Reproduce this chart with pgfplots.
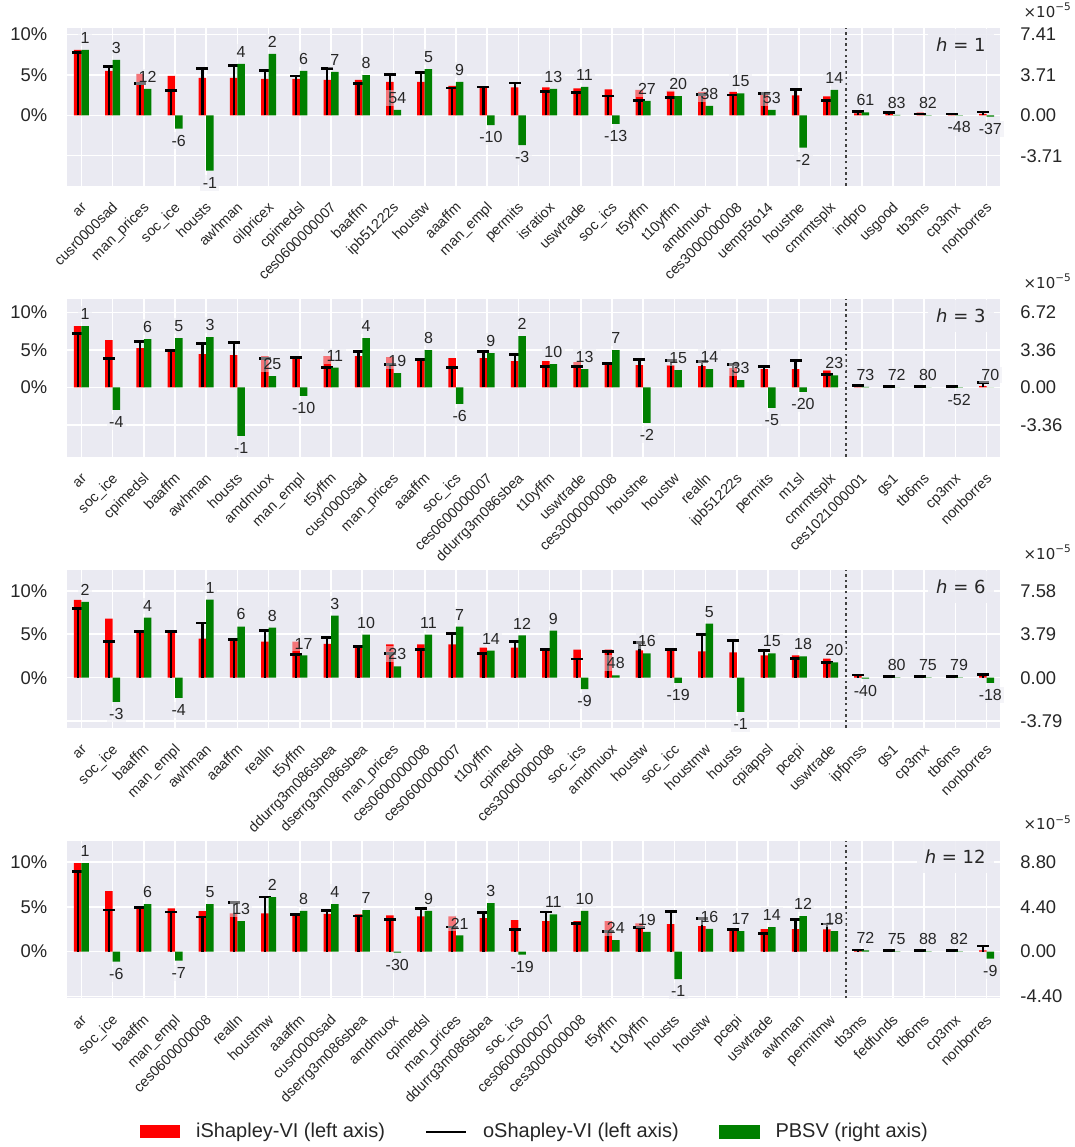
\documentclass[border=0pt]{standalone}
\usepackage{fontspec}
\setmainfont{Liberation Sans}
\newfontfamily\djv{DejaVu Sans}
\usepackage{pgfplots}
\usepackage{pgfplotstable}
\pgfplotsset{compat=1.18}
\definecolor{bgcol}{HTML}{EAEAF2}
\definecolor{txtcol}{HTML}{262626}
\definecolor{pgreen}{HTML}{008000}
\definecolor{dotcol}{HTML}{404040}

% x, iShapley-VI (%), oShapley-VI (%), PBSV (x1e-5), rank label
\pgfplotstableread{
x red black green lab
0 8.10 7.77 6.00 1
1 5.50 6.03 5.08 3
2 5.12 3.97 2.42 12
3 4.88 3.06 -1.22 -6
4 4.63 5.83 -5.08 -1
5 4.63 6.20 4.71 4
6 4.50 5.58 5.63 2
7 4.50 4.88 4.08 6
8 4.38 5.83 3.98 7
9 4.38 3.93 3.68 8
10 4.13 5.04 0.49 54
11 4.13 5.29 4.25 5
12 3.64 3.39 3.06 9
13 3.55 3.51 -0.89 -10
14 3.47 4.01 -2.73 -3
15 3.47 2.93 2.42 13
16 3.35 2.85 2.60 11
17 3.22 2.40 -0.79 -13
18 3.14 1.86 1.32 27
19 3.02 2.23 1.75 20
20 2.89 2.60 0.86 38
21 2.89 2.52 2.02 15
22 2.81 2.73 0.49 53
23 2.48 3.18 -2.97 -2
24 2.36 1.82 2.33 14
25 0.25 0.45 0.27 61
26 0.20 0.33 0.03 83
27 0.33 0.17 0.02 82
28 0.17 0.17 -0.02 -48
29 0.17 0.41 -0.13 -37
}\dataA

\pgfplotstableread{
x red black green lab
0 8.18 7.16 5.50 1
1 6.31 3.91 -2.00 -4
2 5.24 6.09 4.33 6
3 5.07 4.89 4.42 5
4 4.44 5.87 4.51 3
5 4.31 6.00 -4.33 -1
6 4.18 3.82 1.01 25
7 4.09 4.04 -0.75 -10
8 4.18 2.67 1.79 11
9 4.18 4.84 4.42 4
10 4.04 3.07 1.28 19
11 3.82 3.78 3.35 8
12 3.91 2.71 -1.46 -6
13 3.91 4.80 3.08 9
14 3.51 4.44 4.60 2
15 3.51 2.84 2.09 10
16 3.38 2.76 1.64 13
17 3.11 3.16 3.35 7
18 2.98 3.78 -3.17 -2
19 2.98 3.64 1.55 15
20 2.84 3.42 1.64 14
21 2.58 3.11 0.66 33
22 2.44 2.76 -1.82 -5
23 2.44 3.64 -0.39 -20
24 2.31 1.73 1.08 23
25 0.18 0.31 0.06 73
26 0.18 0.09 0.01 72
27 0.18 0.09 0.01 80
28 0.05 0.09 -0.01 -52
29 0.18 0.71 0.01 70
}\dataB

\pgfplotstableread{
x red black green lab
0 8.97 7.94 6.62 2
1 6.79 4.12 -2.11 -3
2 5.38 5.34 5.24 4
3 5.38 5.31 -1.77 -4
4 4.50 6.30 6.80 1
5 4.47 4.39 4.46 6
6 4.16 5.46 4.37 8
7 4.16 2.63 1.94 17
8 3.89 4.62 5.41 3
9 3.74 3.63 3.76 10
10 3.82 2.75 0.99 23
11 3.82 3.24 3.76 11
12 3.82 5.08 4.46 7
13 3.47 2.82 2.37 14
14 3.47 4.20 3.68 12
15 3.28 3.21 4.11 9
16 3.24 2.14 -0.99 -9
17 3.24 2.98 0.20 48
18 3.13 4.08 2.11 16
19 3.28 3.28 -0.46 -19
20 3.02 5.00 4.71 5
21 2.90 4.27 -2.98 -1
22 2.56 3.13 2.11 15
23 2.56 2.25 1.85 18
24 2.18 1.79 1.33 20
25 0.23 0.31 -0.08 -40
26 0.15 0.11 0.02 80
27 0.19 0.15 0.02 75
28 0.19 0.11 0.02 79
29 0.19 0.38 -0.46 -18
}\dataC

\pgfplotstableread{
x red black green lab
0 9.85 8.89 8.67 1
1 6.74 4.63 -0.98 -6
2 5.07 4.89 4.66 6
3 4.81 4.41 -0.88 -7
4 4.52 3.85 4.66 5
5 4.26 5.44 3.00 13
6 4.26 6.07 5.34 2
7 4.26 4.15 3.98 8
8 4.19 4.56 4.66 4
9 4.15 3.96 4.07 7
10 4.04 3.56 -0.10 -30
11 3.93 4.81 3.98 9
12 3.93 2.74 1.59 21
13 3.74 4.37 4.76 3
14 3.52 2.48 -0.29 -19
15 3.41 4.41 3.65 11
16 3.41 3.15 3.98 10
17 3.41 2.22 1.14 24
18 3.15 2.67 1.93 19
19 3.07 4.44 -2.68 -1
20 2.85 3.67 2.22 16
21 2.59 2.48 2.02 17
22 2.52 2.04 2.41 14
23 2.52 3.56 3.48 12
24 2.48 3.07 2.02 18
25 0.26 0.19 0.13 72
26 0.26 0.15 0.02 75
27 0.07 0.15 0.02 88
28 0.07 0.15 0.02 82
29 0.15 0.63 -0.69 -9
}\dataD

\pgfplotsset{
  base/.style={scale only axis, width=466.65pt, height=78.75pt,
    xmin=-0.47, xmax=29.43, axis line style={draw=none},
    major tick length=0pt, tick style={draw=none}, anchor=south west},
  leftax/.style={base, axis background/.style={fill=bgcol},
    xmajorgrids, ymajorgrids, grid style={white, line width=0.8pt},
    xtick={0,...,29},
    xticklabel style={xshift=-0.7pt, yshift=-7.5pt, rotate=45, anchor=north east,
      inner sep=0pt, font=\fontsize{7.2}{8}\selectfont, text=txtcol,
      text height=5.1pt, text depth=1.5pt},
    ytick={-5,0,5,10}, yticklabels={,0\%,5\%,10\%},
    yticklabel style={inner sep=0pt, xshift=-9.5pt, font=\fontsize{9.2}{10}\selectfont, text=txtcol}},
  rightax/.style={base, axis y line*=right, axis x line=none, clip=false,
    yticklabel style={inner sep=0pt, xshift=10pt, font=\fontsize{9.2}{10}\selectfont, text=txtcol}},
  redbar/.style={ybar, bar width=0.24, bar shift=0pt, fill=red, draw=none},
  oline/.style={ycomb, black, line width=1.1pt, mark=-, mark size=3pt,
    mark options={line width=1.4pt, solid}},
  greenbar/.style={ybar, bar width=0.24, bar shift=0pt, fill=pgreen, draw=none,
    nodes near coords, point meta=explicit symbolic,
    visualization depends on={\thisrow{green} \as \gv},
    every node near coord/.append style={font=\fontsize{8}{9}\selectfont, text=txtcol,
      fill=bgcol, fill opacity=0.5, text opacity=1, inner sep=1.2pt, outer sep=2pt,
      anchor=south, yshift={-12.0*(\gv<0)}}},
}
\tikzset{
  hbox/.style={anchor=north east, xshift=-3pt, fill=bgcol, fill opacity=0.85, text opacity=1,
    inner xsep=4pt, inner ysep=4.5pt, font=\djv\fontsize{9}{10}\selectfont, text=txtcol},
  expo/.style={anchor=base west, xshift=8.3pt, yshift=5.6pt,
    font=\djv\fontsize{7.5}{8}\selectfont, text=txtcol},
  dotline/.style={dotcol, line width=1pt, dash pattern=on 1.2pt off 1.6pt}
}

\begin{document}
\begin{tikzpicture}
\useasboundingbox (0,0) rectangle (537.5pt,-573.5pt);

% ---------------- h = 1
\begin{axis}[leftax, at={(33.35pt,-92.85pt)}, ymin=-8.72, ymax=10.79,
  xticklabels={ar,cusr0000sad,man\_prices,soc\_ice,housts,awhman,oilpricex,cpimedsl,ces0600000007,baaffm,ipb51222s,houstw,aaaffm,man\_empl,permits,isratiox,uswtrade,soc\_ics,t5yffm,t10yffm,amdmuox,ces3000000008,uemp5to14,houstne,cmrmtsplx,indpro,usgood,tb3ms,cp3mx,nonborres}]
\addplot[redbar] table[x expr=\thisrow{x}-0.12, y=red]{\dataA};
\addplot[oline] table[x expr=\thisrow{x}-0.12, y=black]{\dataA};
\draw[dotline] ({axis cs:24.5,0}|-{rel axis cs:0,0}) -- ({axis cs:24.5,0}|-{rel axis cs:0,1});
\end{axis}
\begin{axis}[rightax, at={(33.35pt,-92.85pt)}, ymin=-6.462, ymax=7.995,
  ytick={-3.71,0,3.71,7.41}, yticklabels={-3.71,0.00,3.71,7.41}]
\addplot[greenbar] table[x expr=\thisrow{x}+0.12, y=green, meta=lab]{\dataA};
\node[hbox] at (rel axis cs:1,1) {{\itshape h} = 1};
\node[expo] at (rel axis cs:1,1) {×10\textsuperscript{−5}};
\end{axis}

% ---------------- h = 3
\begin{axis}[leftax, at={(33.35pt,-228.35pt)}, ymin=-9.24, ymax=11.78,
  xticklabels={ar,soc\_ice,cpimedsl,baaffm,awhman,housts,amdmuox,man\_empl,t5yffm,cusr0000sad,man\_prices,aaaffm,soc\_ics,ces0600000007,ddurrg3m086sbea,t10yffm,uswtrade,ces3000000008,houstne,houstw,realln,ipb51222s,permits,m1sl,cmrmtsplx,ces1021000001,gs1,tb6ms,cp3mx,nonborres}]
\addplot[redbar] table[x expr=\thisrow{x}-0.12, y=red]{\dataB};
\addplot[oline] table[x expr=\thisrow{x}-0.12, y=black]{\dataB};
\draw[dotline] ({axis cs:24.5,0}|-{rel axis cs:0,0}) -- ({axis cs:24.5,0}|-{rel axis cs:0,1});
\end{axis}
\begin{axis}[rightax, at={(33.35pt,-228.35pt)}, ymin=-6.209, ymax=7.916,
  ytick={-3.36,0,3.36,6.72}, yticklabels={-3.36,0.00,3.36,6.72}]
\addplot[greenbar] table[x expr=\thisrow{x}+0.12, y=green, meta=lab]{\dataB};
\node[hbox] at (rel axis cs:1,1) {{\itshape h} = 3};
\node[expo] at (rel axis cs:1,1) {×10\textsuperscript{−5}};
\end{axis}

% ---------------- h = 6
\begin{axis}[leftax, at={(33.35pt,-363.85pt)}, ymin=-5.76, ymax=12.37,
  xticklabels={ar,soc\_ice,baaffm,man\_empl,awhman,aaaffm,realln,t5yffm,ddurrg3m086sbea,dserrg3m086sbea,man\_prices,ces0600000008,ces0600000007,t10yffm,cpimedsl,ces3000000008,soc\_ics,amdmuox,houstw,soc\_icc,houstmw,housts,cpiappsl,pcepi,uswtrade,ipfpnss,gs1,cp3mx,tb6ms,nonborres}]
\addplot[redbar] table[x expr=\thisrow{x}-0.12, y=red]{\dataC};
\addplot[oline] table[x expr=\thisrow{x}-0.12, y=black]{\dataC};
\draw[dotline] ({axis cs:24.5,0}|-{rel axis cs:0,0}) -- ({axis cs:24.5,0}|-{rel axis cs:0,1});
\end{axis}
\begin{axis}[rightax, at={(33.35pt,-363.85pt)}, ymin=-4.366, ymax=9.376,
  ytick={-3.79,0,3.79,7.58}, yticklabels={-3.79,0.00,3.79,7.58}]
\addplot[greenbar] table[x expr=\thisrow{x}+0.12, y=green, meta=lab]{\dataC};
\node[hbox] at (rel axis cs:1,1) {{\itshape h} = 6};
\node[expo] at (rel axis cs:1,1) {×10\textsuperscript{−5}};
\end{axis}

% ---------------- h = 12
\begin{axis}[leftax, at={(33.35pt,-499.15pt)}, ymin=-5.19, ymax=12.33,
  xticklabels={ar,soc\_ice,baaffm,man\_empl,ces0600000008,realln,houstmw,aaaffm,cusr0000sad,dserrg3m086sbea,amdmuox,cpimedsl,man\_prices,ddurrg3m086sbea,soc\_ics,ces0600000007,ces3000000008,t5yffm,t10yffm,housts,houstw,pcepi,uswtrade,awhman,permitmw,tb3ms,fedfunds,tb6ms,cp3mx,nonborres},
  legend style={at={(0.5007,-0.847)}, anchor=center, draw=none, fill=none,
    legend columns=3, font=\fontsize{10}{12}\selectfont, text=txtcol,
    nodes={inner sep=0pt},
    /tikz/every odd column/.append style={column sep=8pt},
    /tikz/every even column/.append style={column sep=20pt}}]
\addplot[redbar, legend image code/.code={\fill[red] (0pt,-3.25pt) rectangle (20pt,3.25pt);}]
  table[x expr=\thisrow{x}-0.12, y=red]{\dataD};
\addlegendentry{iShapley-VI (left axis)}
\addplot[oline, legend image code/.code={\draw[black, line width=1pt] (0pt,0pt) -- (20pt,0pt);}]
  table[x expr=\thisrow{x}-0.12, y=black]{\dataD};
\addlegendentry{oShapley-VI (left axis)}
\addlegendimage{legend image code/.code={\fill[pgreen] (0pt,-3.25pt) rectangle (20pt,3.25pt);}}
\addlegendentry{PBSV (right axis)}
\draw[dotline] ({axis cs:24.5,0}|-{rel axis cs:0,0}) -- ({axis cs:24.5,0}|-{rel axis cs:0,1});
\end{axis}
\begin{axis}[rightax, at={(33.35pt,-499.15pt)}, ymin=-4.567, ymax=10.850,
  ytick={-4.40,0,4.40,8.80}, yticklabels={-4.40,0.00,4.40,8.80}]
\addplot[greenbar] table[x expr=\thisrow{x}+0.12, y=green, meta=lab]{\dataD};
\node[hbox] at (rel axis cs:1,1) {{\itshape h} = 12};
\node[expo] at (rel axis cs:1,1) {×10\textsuperscript{−5}};
\end{axis}
\end{tikzpicture}
\end{document}
